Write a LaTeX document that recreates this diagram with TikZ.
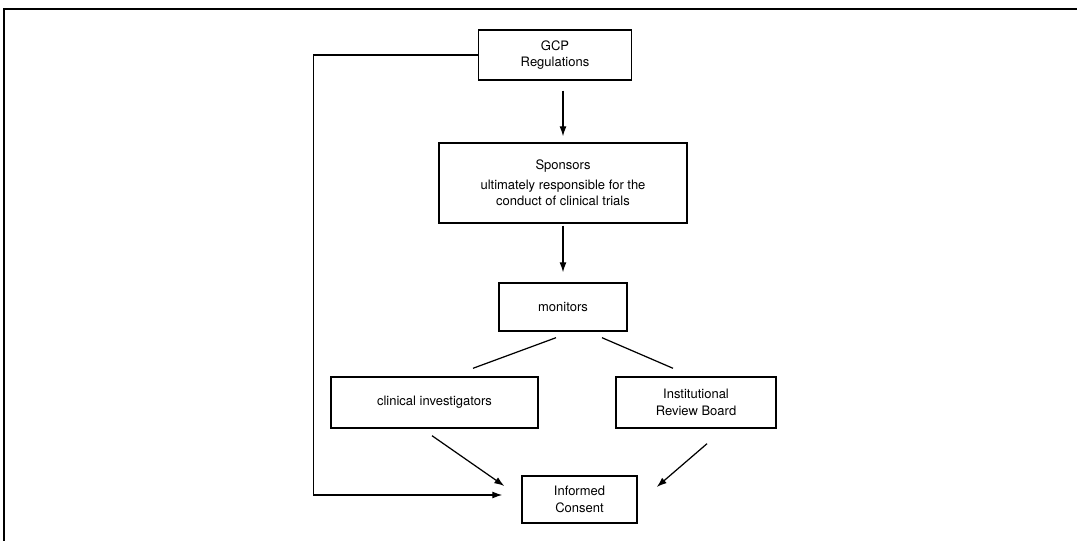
\documentclass[tikz,border=0pt]{standalone}
\usepackage{fontspec}
\setsansfont{TeX Gyre Heros}
\usepackage{tikz}
\usetikzlibrary{arrows.meta,positioning,calc}
\tikzset{
  box/.style={draw=black, line width=0.8pt, fill=white, align=center,
              inner sep=1mm, font=\sffamily\fontsize{7.4}{9.5}\selectfont},
  arrow/.style={-{Latex[length=2mm,width=1.4mm]}, line width=0.7pt},
  link/.style={line width=0.7pt},
  frame/.style={line width=0.9pt},
}
\begin{document}
\begin{tikzpicture}[x=0.2mm, y=-0.2mm]
  \useasboundingbox (0,0) rectangle (1077,541);
  \draw[frame] (4,541) -- (4,9) -- (1077,9);
  \node[box, minimum width=30.6mm, minimum height=10mm] (gcp) at (555,55) {GCP\\Regulations};
  \node[box, minimum width=49.6mm, minimum height=16mm] (spons) at (563,183) {Sponsors\\[1.5pt]ultimately responsible for the\\conduct of clinical trials};
  \node[box, minimum width=25.6mm, minimum height=9.6mm] (mon) at (563,307) {monitors};
  \node[box, minimum width=41.4mm, minimum height=10.2mm] (clin) at (434.5,402.5) {clinical investigators};
  \node[box, minimum width=32mm, minimum height=10.2mm] (irb) at (696,402.5) {Institutional\\Review Board};
  \node[box, minimum width=23mm, minimum height=9.4mm] (ic) at (579.5,499.5) {Informed\\Consent};
  % chain down the middle
  \draw[arrow, shorten <=2mm, shorten >=1.2mm] (gcp.south -| spons.north) -- (spons.north);
  \draw[arrow, shorten <=0.4mm, shorten >=2mm] (spons.south) -- (mon.north);
  % monitors to both sides
  \draw[link] ($(mon.south)+(-7,6)$) -- ($(clin.north)+(38.5,-8)$);
  \draw[link] ($(mon.south)+(39,6)$) -- ($(irb.north)+(-23,-8)$);
  % into consent
  \draw[arrow] ($(clin.south)+(-2.5,7)$) -- ($(ic.west)+(-17,-13.5)$);
  \draw[arrow] ($(irb.south)+(11,15)$) -- ($(ic.east)+(19,-12.5)$);
  \draw[arrow] (gcp.west) -- ++(-164,0) |- ($(ic.west)+(-19,-4.5)$);
\end{tikzpicture}
\end{document}
